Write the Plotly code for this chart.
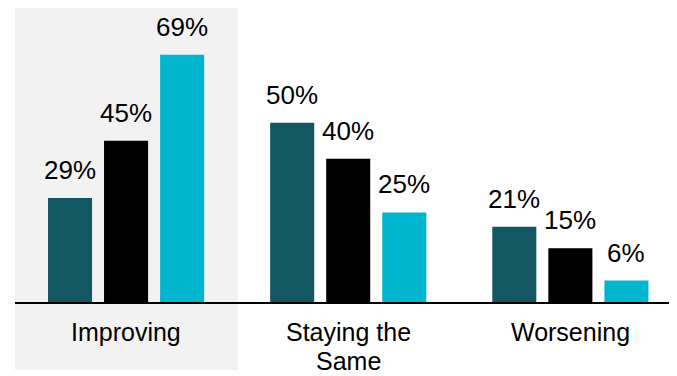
import plotly.graph_objects as go

categories = ["Improving", "Staying the<br>Same", "Worsening"]
series_names = ["Series A", "Series B", "Series C"]
series_values = [
    [29, 50, 21],
    [45, 40, 15],
    [69, 25, 6],
]
colors = ["#135763", "#000000", "#00B5CE"]

FONT = "Liberation Sans, Arial"
BARGAP = 0.243
BARGROUPGAP = 0.214

fig = go.Figure()
xs = list(range(len(categories)))
for name, vals, col in zip(series_names, series_values, colors):
    fig.add_trace(go.Bar(
        x=xs, y=vals, name=name, marker=dict(color=col, line=dict(width=0)),
        hoverinfo="skip",
    ))

# value labels above bars
n = len(series_values)
slot = (1 - BARGAP) / n
annotations = []
for j, vals in enumerate(series_values):
    for i, v in enumerate(vals):
        annotations.append(dict(
            x=i + (j - (n - 1) / 2) * slot, y=v, xref="x", yref="y",
            text=f"{v}%", showarrow=False, yanchor="bottom", yshift=12,
            font=dict(size=26, color="#000000", family=FONT),
            borderpad=0,
        ))

# category labels (one annotation per line for tight line spacing)
for i, cat in enumerate(categories):
    for k, line in enumerate(cat.split("<br>")):
        annotations.append(dict(
            x=i, y=0, xref="x", yref="paper", text=line, showarrow=False,
            yanchor="top", yshift=-15 - 29 * k, borderpad=0,
            font=dict(size=25, color="#000000", family=FONT),
        ))

fig.update_layout(
    width=669, height=368,
    margin=dict(l=7, r=0, t=2, b=74, autoexpand=False),
    barmode="group", bargap=BARGAP, bargroupgap=BARGROUPGAP,
    showlegend=False,
    plot_bgcolor="rgba(0,0,0,0)", paper_bgcolor="#FFFFFF",
    font=dict(family=FONT, size=26, color="#000000"),
    annotations=annotations,
    shapes=[dict(type="rect", xref="x", yref="paper", x0=-0.536, x1=0.504,
                 y0=-0.233, y1=1.017, fillcolor="#F2F2F2", line=dict(width=0),
                 layer="below")],
)
fig.update_xaxes(range=[-0.5, 2.48], tickvals=xs, showticklabels=False,
                 showline=True, linecolor="#000000", linewidth=1.5,
                 showgrid=False, zeroline=False, ticks="", automargin=False)
fig.update_yaxes(range=[0, 81.5], visible=False, showgrid=False, automargin=False)

fig.write_html("out.html")
